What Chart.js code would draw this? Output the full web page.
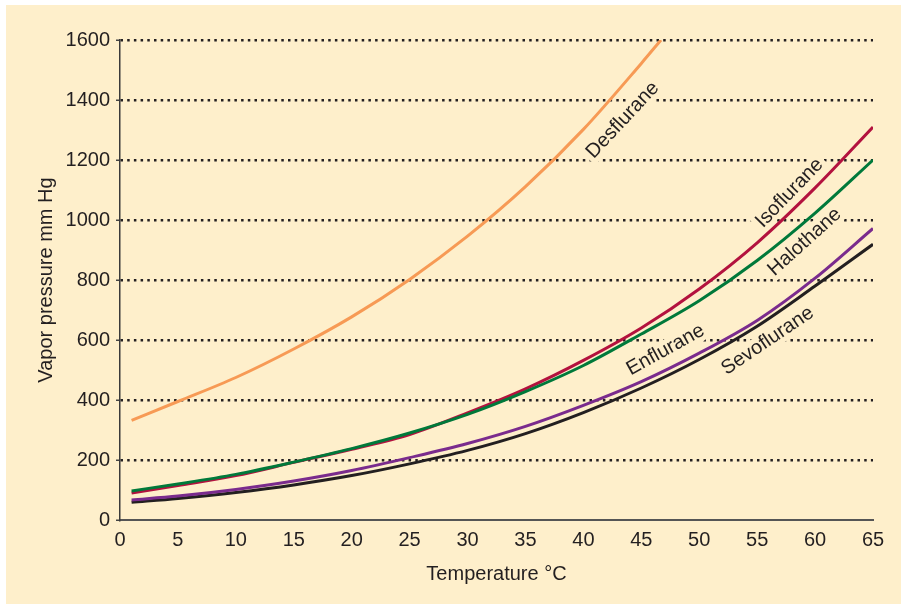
<!DOCTYPE html>
<html>
<head>
<meta charset="utf-8">
<script src="https://cdn.jsdelivr.net/npm/chart.js@4.4.1/dist/chart.umd.min.js"></script>
<style>
  html, body { margin: 0; padding: 0; background: #ffffff; }
  #wrap { position: absolute; left: 0; top: 0; width: 901px; height: 604px; }
</style>
</head>
<body>
<div id="wrap"><canvas id="vaporChart" width="901" height="604"></canvas></div>
<script>
// Températures (°C) et pressions de vapeur (mm Hg)
const temps = [1, 5, 10, 15, 20, 25, 30, 35, 40, 45, 50, 55, 60, 65];
const desTemps = [1, 5, 10, 15, 20, 25, 30, 35, 40, 45, 46.7];

const desflurane = [332, 395, 475, 570, 677, 802, 946, 1111, 1302, 1522, 1600];
const isoflurane = [90, 115, 148, 192, 236, 285, 357, 437, 532, 640, 770, 924, 1107, 1310];
const halothane = [97, 120, 152, 193, 238, 290, 352, 428, 515, 620, 731, 865, 1023, 1200];
const enflurane = [67, 80, 102, 130, 165, 208, 255, 312, 382, 461, 556, 665, 806, 972];
const sevoflurane = [59, 72, 92, 117, 148, 187, 232, 288, 358, 440, 535, 646, 780, 919];

const xTicks = [0, 5, 10, 15, 20, 25, 30, 35, 40, 45, 50, 55, 60, 65];
const yTicks = [0, 200, 400, 600, 800, 1000, 1200, 1400, 1600];

const BG = '#feefcb';
const INK = '#231f20';
const FONT = '"Liberation Sans", Arial, Helvetica, sans-serif';

function toPoints(xs, ys) {
  return ys.map((v, i) => ({ x: xs[i], y: v }));
}

// Étiquettes des courbes (position en coordonnées de données)
const curveLabels = [
  { text: 'Desflurane', t: 43.4, p: 1333, angle: -47 },
  { text: 'Isoflurane', t: 57.8, p: 1090, angle: -46 },
  { text: 'Halothane', t: 59.1, p: 927, angle: -42 },
  { text: 'Enflurane', t: 47.1, p: 567, angle: -29 },
  { text: 'Sevoflurane', t: 55.9, p: 597, angle: -34 }
];

const backgroundPlugin = {
  id: 'bg',
  beforeDraw(chart) {
    const c = chart.ctx;
    c.save();
    c.fillStyle = '#ffffff';
    c.fillRect(0, 0, chart.width, chart.height);
    c.fillStyle = BG;
    c.fillRect(6, 5, chart.width - 6, chart.height - 5);
    c.restore();
  }
};

const labelPlugin = {
  id: 'curveLabels',
  beforeDatasetsDraw(chart) {
    const c = chart.ctx;
    const xs = chart.scales.x;
    const ys = chart.scales.y;
    c.save();
    c.font = '20px ' + FONT;
    c.textAlign = 'center';
    c.textBaseline = 'middle';
    curveLabels.forEach(l => {
      c.save();
      c.translate(xs.getPixelForValue(l.t), ys.getPixelForValue(l.p));
      c.rotate(l.angle * Math.PI / 180);
      c.lineWidth = 10;
      c.lineJoin = 'round';
      c.strokeStyle = BG;
      c.strokeText(l.text, 0, 0);
      c.fillStyle = INK;
      c.fillText(l.text, 0, 0);
      c.restore();
    });
    c.restore();
  }
};

function lineSet(label, xs, ys, color) {
  return {
    label: label,
    data: toPoints(xs, ys),
    borderColor: color,
    backgroundColor: color,
    borderWidth: 3,
    pointRadius: 0,
    cubicInterpolationMode: 'monotone',
    fill: false
  };
}

const ctx = document.getElementById('vaporChart').getContext('2d');
new Chart(ctx, {
  type: 'line',
  data: {
    datasets: [
      lineSet('Desflurane', desTemps, desflurane, '#f79a55'),
      lineSet('Halothane', temps, halothane, '#00793a'),
      lineSet('Isoflurane', temps, isoflurane, '#b3123e'),
      lineSet('Enflurane', temps, enflurane, '#7a2b8d'),
      lineSet('Sevoflurane', temps, sevoflurane, INK)
    ]
  },
  options: {
    responsive: false,
    animation: false,
    layout: { padding: { top: 40, right: 28, left: 30, bottom: 18 } },
    plugins: {
      legend: { display: false },
      tooltip: { enabled: false }
    },
    scales: {
      x: {
        type: 'linear',
        min: 0,
        max: 65,
        afterBuildTicks: s => { s.ticks = xTicks.map(v => ({ value: v })); },
        afterFit: s => { s.height = 66; },
        grid: { display: false, drawTicks: false },
        border: { display: true, color: '#555555', width: 2 },
        ticks: {
          color: INK,
          font: { family: FONT, size: 20 },
          padding: 8,
          maxRotation: 0,
          callback: v => String(v)
        },
        title: {
          display: true,
          text: 'Temperature °C',
          color: INK,
          font: { family: FONT, size: 20 },
          padding: { top: 6, bottom: 0 }
        }
      },
      y: {
        min: 0,
        max: 1600,
        afterBuildTicks: s => { s.ticks = yTicks.map(v => ({ value: v })); },
        afterFit: s => { s.width = 90; },
        grid: {
          color: c => (c.tick && c.tick.value === 0) ? 'rgba(0,0,0,0)' : INK,
          lineWidth: 2.5,
          drawTicks: true,
          tickLength: 4,
          tickColor: '#444444',
          tickWidth: 1.5,
          tickBorderDash: []
        },
        border: { display: true, color: '#3a3a3a', width: 1.5, dash: [2.5, 4.2] },
        ticks: {
          color: INK,
          font: { family: FONT, size: 20 },
          padding: 6,
          callback: v => String(v)
        },
        title: {
          display: true,
          text: 'Vapor pressure mm Hg',
          color: INK,
          font: { family: FONT, size: 20 },
          padding: { top: 4, bottom: 4 }
        }
      }
    }
  },
  plugins: [backgroundPlugin, labelPlugin]
});
</script>
</body>
</html>
